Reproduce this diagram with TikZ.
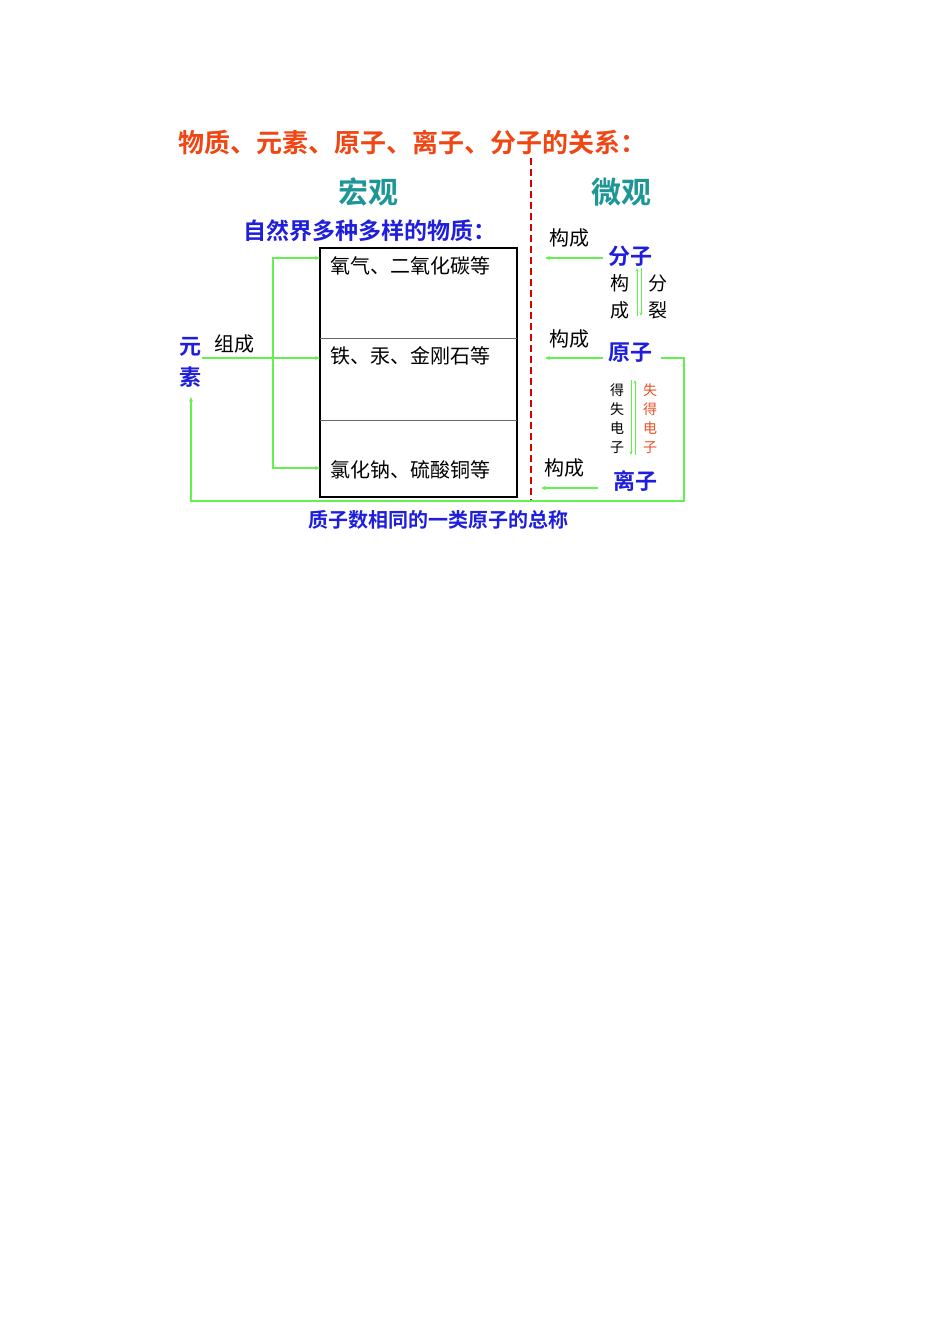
\documentclass[tikz,border=0pt]{standalone}
\usepackage{fontspec}
\setmainfont{Noto Sans CJK SC}
\newfontfamily\cjkb{Noto Sans CJK SC Bold}
\usetikzlibrary{arrows.meta}
\definecolor{ttl}{RGB}{240,70,20}
\definecolor{tea}{RGB}{30,150,150}
\definecolor{blu}{RGB}{30,30,220}
\definecolor{grn}{RGB}{100,240,80}
\definecolor{rd}{RGB}{230,80,40}
\tikzset{
 t/.style={inner sep=0,font=\fontsize{20}{20}\selectfont},
 bt/.style={inner sep=0,text=blu,font=\cjkb\fontsize{22}{22}\selectfont},
 g/.style={draw=grn,line width=1.6pt},
 ga/.style={g,-{Stealth[length=5pt,width=4pt]}},
 sm/.style={inner sep=0,font=\fontsize{14}{14}\selectfont,align=center}
}
\begin{document}
\begin{tikzpicture}[x=1pt,y=-1pt]
\useasboundingbox (0,0) rectangle (950,1344);
\node[anchor=west,inner sep=0,text=ttl,font=\cjkb\fontsize{26}{26}\selectfont] (title) at (178,143) {物质、元素、原子、离子、分子的关系：};
\node[inner sep=0,text=tea,font=\cjkb\fontsize{30}{30}\selectfont] (hg) at (368,192) {宏观};
\node[inner sep=0,text=tea,font=\cjkb\fontsize{30}{30}\selectfont] (wg) at (621,192) {微观};
\node[anchor=west,inner sep=0,text=blu,font=\cjkb\fontsize{23}{23}\selectfont] (zr) at (243,231) {自然界多种多样的物质：};
\draw[line width=1.3pt] (320,248) rectangle (517,497);
\draw[line width=0.6pt,gray!80!black] (320,338) -- (517,338) (320,420) -- (517,420);
\node[t,anchor=west] (b1) at (330,266) {氧气、二氧化碳等};
\node[t,anchor=west] (b2) at (330,356) {铁、汞、金刚石等};
\node[t,anchor=west] (b3) at (330,470) {氯化钠、硫酸铜等};
\node[bt] (y1) at (190,347) {元};
\node[bt] (y2) at (190,377) {素};
\node[t] (zc) at (234,344) {组成};
\coordinate (c1) at (320,258); \coordinate (c2) at (320,358); \coordinate (c3) at (320,468);
\draw[ga] (202,358) -- (c2);
\draw[ga] (273,358) |- (c1);
\draw[ga] (273,358) |- (c3);
\draw[red!85!black,dashed,line width=1.3pt,dash pattern=on 7pt off 4pt] (531,158) -- (531,501);
\node[t] (k1) at (569,238) {构成};
\node[bt] (fz) at (630,256) {分子};
\node[t] (k2) at (569,339) {构成};
\node[bt] (yz) at (630,353) {原子};
\node[t] (k3) at (564,468) {构成};
\node[bt] (lz) at (635,481) {离子};
\draw[ga] (603,258) -- (545,258);
\draw[ga] (603,358) -- (545,358);
\draw[ga] (598,488) -- (541,488);
\node[t,align=center,font=\fontsize{19}{27}\selectfont] (gc) at (620,297) {构\\成};
\node[t,align=center,font=\fontsize{19}{27}\selectfont] (fl) at (658,297) {分\\裂};
\draw[g,-{Stealth[length=4pt,width=3pt]},line width=1pt] (637,316) -- (637,268);
\draw[g,-{Stealth[length=4pt,width=3pt]},line width=1pt] (641,268) -- (641,316);
\node[sm,font=\fontsize{14}{19}\selectfont] (ds) at (617,419) {得\\失\\电\\子};
\node[sm,text=rd,font=\fontsize{14}{19}\selectfont] (sd) at (650,419) {失\\得\\电\\子};
\draw[g,-{Stealth[length=4pt,width=3pt]},line width=1pt] (631,380) -- (631,455);
\draw[g,-{Stealth[length=4pt,width=3pt]},line width=1pt] (635,455) -- (635,380);
\draw[ga] (661,358) -- (684,358) -- (684,501) -- (191,501) -- (191,397);
\node[inner sep=0,text=blu,font=\cjkb\fontsize{20}{20}\selectfont] (bl) at (438,520) {质子数相同的一类原子的总称};
\end{tikzpicture}
\end{document}
